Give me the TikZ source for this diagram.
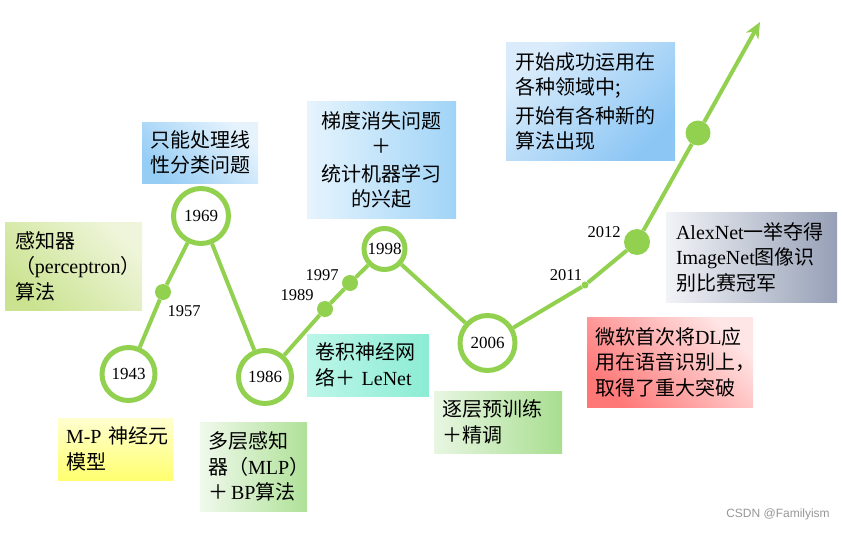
\documentclass[tikz,border=0pt]{standalone}
\usepackage{fontspec}
\setmainfont{Liberation Serif}
\newfontfamily\cjk{Noto Sans CJK SC}
\newfontfamily\wmfont{Liberation Sans}
\usetikzlibrary{arrows.meta}
\newcommand\zhc[1]{{\cjk #1}}
\definecolor{lg}{RGB}{146,208,80}
\definecolor{wmgray}{RGB}{150,150,150}
\begin{document}
\begin{tikzpicture}[x=1pt,y=-1pt,
  yr/.style={circle, draw=lg, line width=5pt, fill=white, minimum size=#1, inner sep=0pt, font=\fontsize{17}{19}\selectfont},
  dot/.style={circle, fill=lg, minimum size=#1, inner sep=0pt},
  link/.style={draw=lg, line width=4pt},
  yl/.style={font=\fontsize{16.5}{18}\selectfont, inner sep=0pt},
  txt/.style={font=\fontsize{20}{25.5}\selectfont, inner sep=0pt},
  lbox/.style n args={3}{txt, minimum width=#1, minimum height=#2, text width=#3, align=left},
  cbox/.style n args={2}{txt, minimum width=#1, minimum height=#2, align=center}
]
\useasboundingbox (0,0) rectangle (842,532);

% boxes
\node[lbox={137pt}{88pt}{117pt}, top color={rgb,255:red,238;green,245;blue,218}, bottom color={rgb,255:red,203;green,227;blue,145}, shading angle=-45]
  (b1) at (73.5,266) {\zhc{感知器}\\\zhc{（}perceptron\zhc{）}\\\zhc{算法}};
\node[cbox={116pt}{61pt}, top color={rgb,255:red,230;green,243;blue,253}, bottom color={rgb,255:red,150;green,205;blue,245}, shading angle=-45]
  (b2) at (200,152.5) {\zhc{只能处理线}\\\zhc{性分类问题}};
\node[cbox={149pt}{116pt}, left color={rgb,255:red,230;green,244;blue,253}, right color={rgb,255:red,160;green,212;blue,247}]
  (b3) at (381.5,160) {\zhc{梯度消失问题}\\\zhc{＋}\\[2pt]\zhc{统计机器学习}\\\zhc{的兴起}};
\node[lbox={169pt}{117pt}{151pt}, top color={rgb,255:red,218;green,236;blue,251}, bottom color={rgb,255:red,140;green,198;blue,244}, shading angle=45]
  (b4) at (590.5,101.5) {\zhc{开始成功运用在}\\\zhc{各种领域中;}\\[3pt]\zhc{开始有各种新的}\\\zhc{算法出现}};
\node[lbox={171pt}{90pt}{151pt}, left color={rgb,255:red,242;green,243;blue,247}, right color={rgb,255:red,150;green,160;blue,182}]
  (b5) at (751.5,257) {AlexNet\zhc{一举夺得}\\ImageNet\zhc{图像识}\\\zhc{别比赛冠军}};
\node[lbox={166pt}{90pt}{150pt}, top color={rgb,255:red,255;green,230;blue,230}, bottom color={rgb,255:red,255;green,120;blue,120}, shading angle=-45]
  (b6) at (670,362) {\zhc{微软首次将}DL\zhc{应}\\\zhc{用在语音识别上，}\\\zhc{取得了重大突破}};
\node[lbox={115pt}{62pt}{99pt}, top color={rgb,255:red,255;green,255;blue,208}, bottom color={rgb,255:red,255;green,255;blue,112}]
  (b7) at (115.5,449) {\mbox{M-P \zhc{神经元}}\\\zhc{模型}};
\node[lbox={107pt}{89pt}{91pt}, left color={rgb,255:red,240;green,249;blue,236}, right color={rgb,255:red,175;green,225;blue,152}]
  (b8) at (253.5,466.5) {\zhc{多层感知}\\\zhc{器（}MLP\zhc{）}\\\mbox{\zhc{＋}\hspace{3pt}BP\zhc{算法}}};
\node[lbox={122pt}{62pt}{106pt}, left color={rgb,255:red,188;green,246;blue,233}, right color={rgb,255:red,140;green,236;blue,212}]
  (b9) at (368,365) {\zhc{卷积神经网}\\\zhc{络＋}~LeNet};
\node[lbox={128pt}{62pt}{112pt}, left color={rgb,255:red,232;green,246;blue,226}, right color={rgb,255:red,168;green,222;blue,144}]
  (b10) at (498,422) {\zhc{逐层预训练}\\\zhc{＋精调}};

% timeline points
\node[dot=16pt] (d1957) at (163,292) {};
\node[dot=16pt] (d1989) at (325,309) {};
\node[dot=16pt] (d1997) at (350,283) {};
\node[dot=7pt] (d2011) at (585,285) {};
\node[dot=26pt] (d2012) at (637,242) {};
\node[dot=25pt] (dtop) at (698,133) {};
\coordinate (tip) at (760,22);

\node[yr=53pt] (c1943) at (128.5,374) {1943};
\node[yr=55pt] (c1969) at (201,216) {1969};
\node[yr=53pt] (c1986) at (265,377) {1986};
\node[yr=41pt] (c1998) at (384.5,249) {1998};
\node[yr=55pt] (c2006) at (487.5,343) {2006};

% connectors
\draw[link] (c1943) -- (d1957) -- (c1969);
\draw[link] (c1969) -- (c1986);
\draw[link] (c1986) -- (d1989) -- (d1997) -- (c1998);
\draw[link] (c1998) -- (c2006);
\draw[link] (c2006) -- (d2011) -- (d2012) -- (dtop);
\draw[link, -{Stealth[length=16pt,width=14pt,inset=5pt]}] (dtop) -- (tip);

% year labels
\node[yl] (l1957) at (184,311) {1957};
\node[yl] (l1989) at (297,295) {1989};
\node[yl] (l1997) at (322,275) {1997};
\node[yl] (l2011) at (566,275) {2011};
\node[yl] (l2012) at (604,232) {2012};

% watermark
\node[font=\wmfont\fontsize{12}{14}\selectfont, text=wmgray, inner sep=0pt] (wm) at (778,514) {CSDN @Familyism};
\end{tikzpicture}
\end{document}
